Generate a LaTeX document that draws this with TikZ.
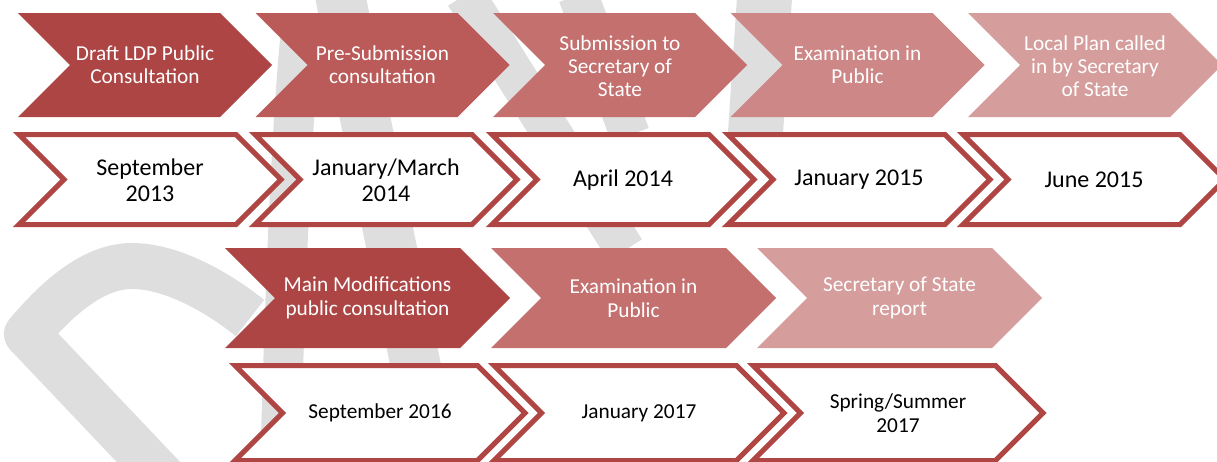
\documentclass[tikz,border=0pt]{standalone}
\usepackage{fontspec}
\setmainfont{Carlito}
\definecolor{cA}{HTML}{AD4545}
\definecolor{cB}{HTML}{BA5A59}
\definecolor{cC}{HTML}{C3706F}
\definecolor{cD}{HTML}{CC8786}
\definecolor{cE}{HTML}{D59E9D}
\definecolor{cLine}{HTML}{B04644}
\definecolor{wmgray}{HTML}{DEDEDE}
\newcommand{\chevpath}[5]{%
  \path[#5] (#1,#2) -- ({#1+#3-#4/2},#2) -- ({#1+#3},{#2+#4/2}) -- ({#1+#3-#4/2},{#2+#4}) -- (#1,{#2+#4}) -- ({#1+#4/2},{#2+#4/2}) -- cycle;}
\tikzset{
  wm/.style={draw=wmgray, line width=46pt},
  filledchev/.style={fill=#1},
  outlinechev/.style={draw=cLine, fill=white, line width=5pt, miter limit=10},
  headtxt/.style={text=white, align=center, inner sep=0pt, font=\fontsize{21.3}{23.3}\selectfont},
  datetxt/.style={text=black, align=center, inner sep=0pt, font=\fontsize{24}{26.5}\selectfont},
  headtxtb/.style={text=white, align=center, inner sep=0pt, font=\fontsize{21.3}{23.5}\selectfont},
  datetxtb/.style={text=black, align=center, inner sep=0pt, font=\fontsize{21.3}{23.5}\selectfont}
}
\begin{document}
\begin{tikzpicture}[x=1pt,y=-1pt]
\useasboundingbox (0,0) rectangle (1217,461);
% watermark
\begin{scope}
\clip (0,0) rectangle (1217,461);
\draw[wm, line join=round] (175,490) -- (27,334) .. controls (60,295) and (95,266) .. (132,266) .. controls (170,266) and (215,290) .. (250,318);
\draw[wm, line width=50pt] (339,-10) -- (437,470);
\draw[wm, line width=40pt] (465,-5) -- (625,250);
\draw[wm, line width=40pt] (578,-5) -- (630,135);
\draw[wm, line width=40pt] (300,40) .. controls (290,150) and (285,300) .. (280,470);
\draw[wm, line width=55pt] (765,-10) -- (755,140);
\end{scope}
% row 1
\chevpath{18}{13}{254}{104}{filledchev=cA}
\chevpath{255.5}{13}{254}{104}{filledchev=cB}
\chevpath{493}{13}{254}{104}{filledchev=cC}
\chevpath{730.5}{13}{254}{104}{filledchev=cD}
\chevpath{968}{13}{254}{104}{filledchev=cE}
\node[headtxt] (h1) at (145,65) {Draft LDP Public\\Consultation};
\node[headtxt] (h2) at (382.5,65) {Pre-Submission\\consultation};
\node[headtxt] (h3) at (620,66) {Submission to\\Secretary of\\State};
\node[headtxt] (h4) at (857.5,65) {Examination in\\Public};
\node[headtxt] (h5) at (1095,66) {Local Plan called\\in by Secretary\\of State};
% row 2
\chevpath{19}{134.5}{262}{90}{outlinechev}
\chevpath{255}{134.5}{262}{90}{outlinechev}
\chevpath{492}{134.5}{262}{90}{outlinechev}
\chevpath{728}{134.5}{262}{90}{outlinechev}
\chevpath{963}{134.5}{262}{90}{outlinechev}
\node[datetxt] (d1) at (150,180) {September\\2013};
\node[datetxt] (d2) at (386,180) {January/March\\2014};
\node[datetxt] (d3) at (623,180) {April 2014};
\node[datetxt] (d4) at (859,180) {January 2015};
\node[datetxt] (d5) at (1094,180) {June 2015};
% row 3
\chevpath{225}{248}{285}{100}{filledchev=cA}
\chevpath{491}{248}{285}{100}{filledchev=cC}
\chevpath{757}{248}{285}{100}{filledchev=cE}
\node[headtxtb] (m1) at (367.5,298) {Main Modifications\\public consultation};
\node[headtxtb] (m2) at (633.5,298) {Examination in\\Public};
\node[headtxtb] (m3) at (899.5,298) {Secretary of State\\report};
% row 4
\chevpath{235}{365.5}{290}{95}{outlinechev}
\chevpath{494}{365.5}{290}{95}{outlinechev}
\chevpath{753}{365.5}{290}{95}{outlinechev}
\node[datetxtb] (n1) at (380,413) {September 2016};
\node[datetxtb] (n2) at (639,413) {January 2017};
\node[datetxtb] (n3) at (898,413) {Spring/Summer\\2017};
\end{tikzpicture}
\end{document}
